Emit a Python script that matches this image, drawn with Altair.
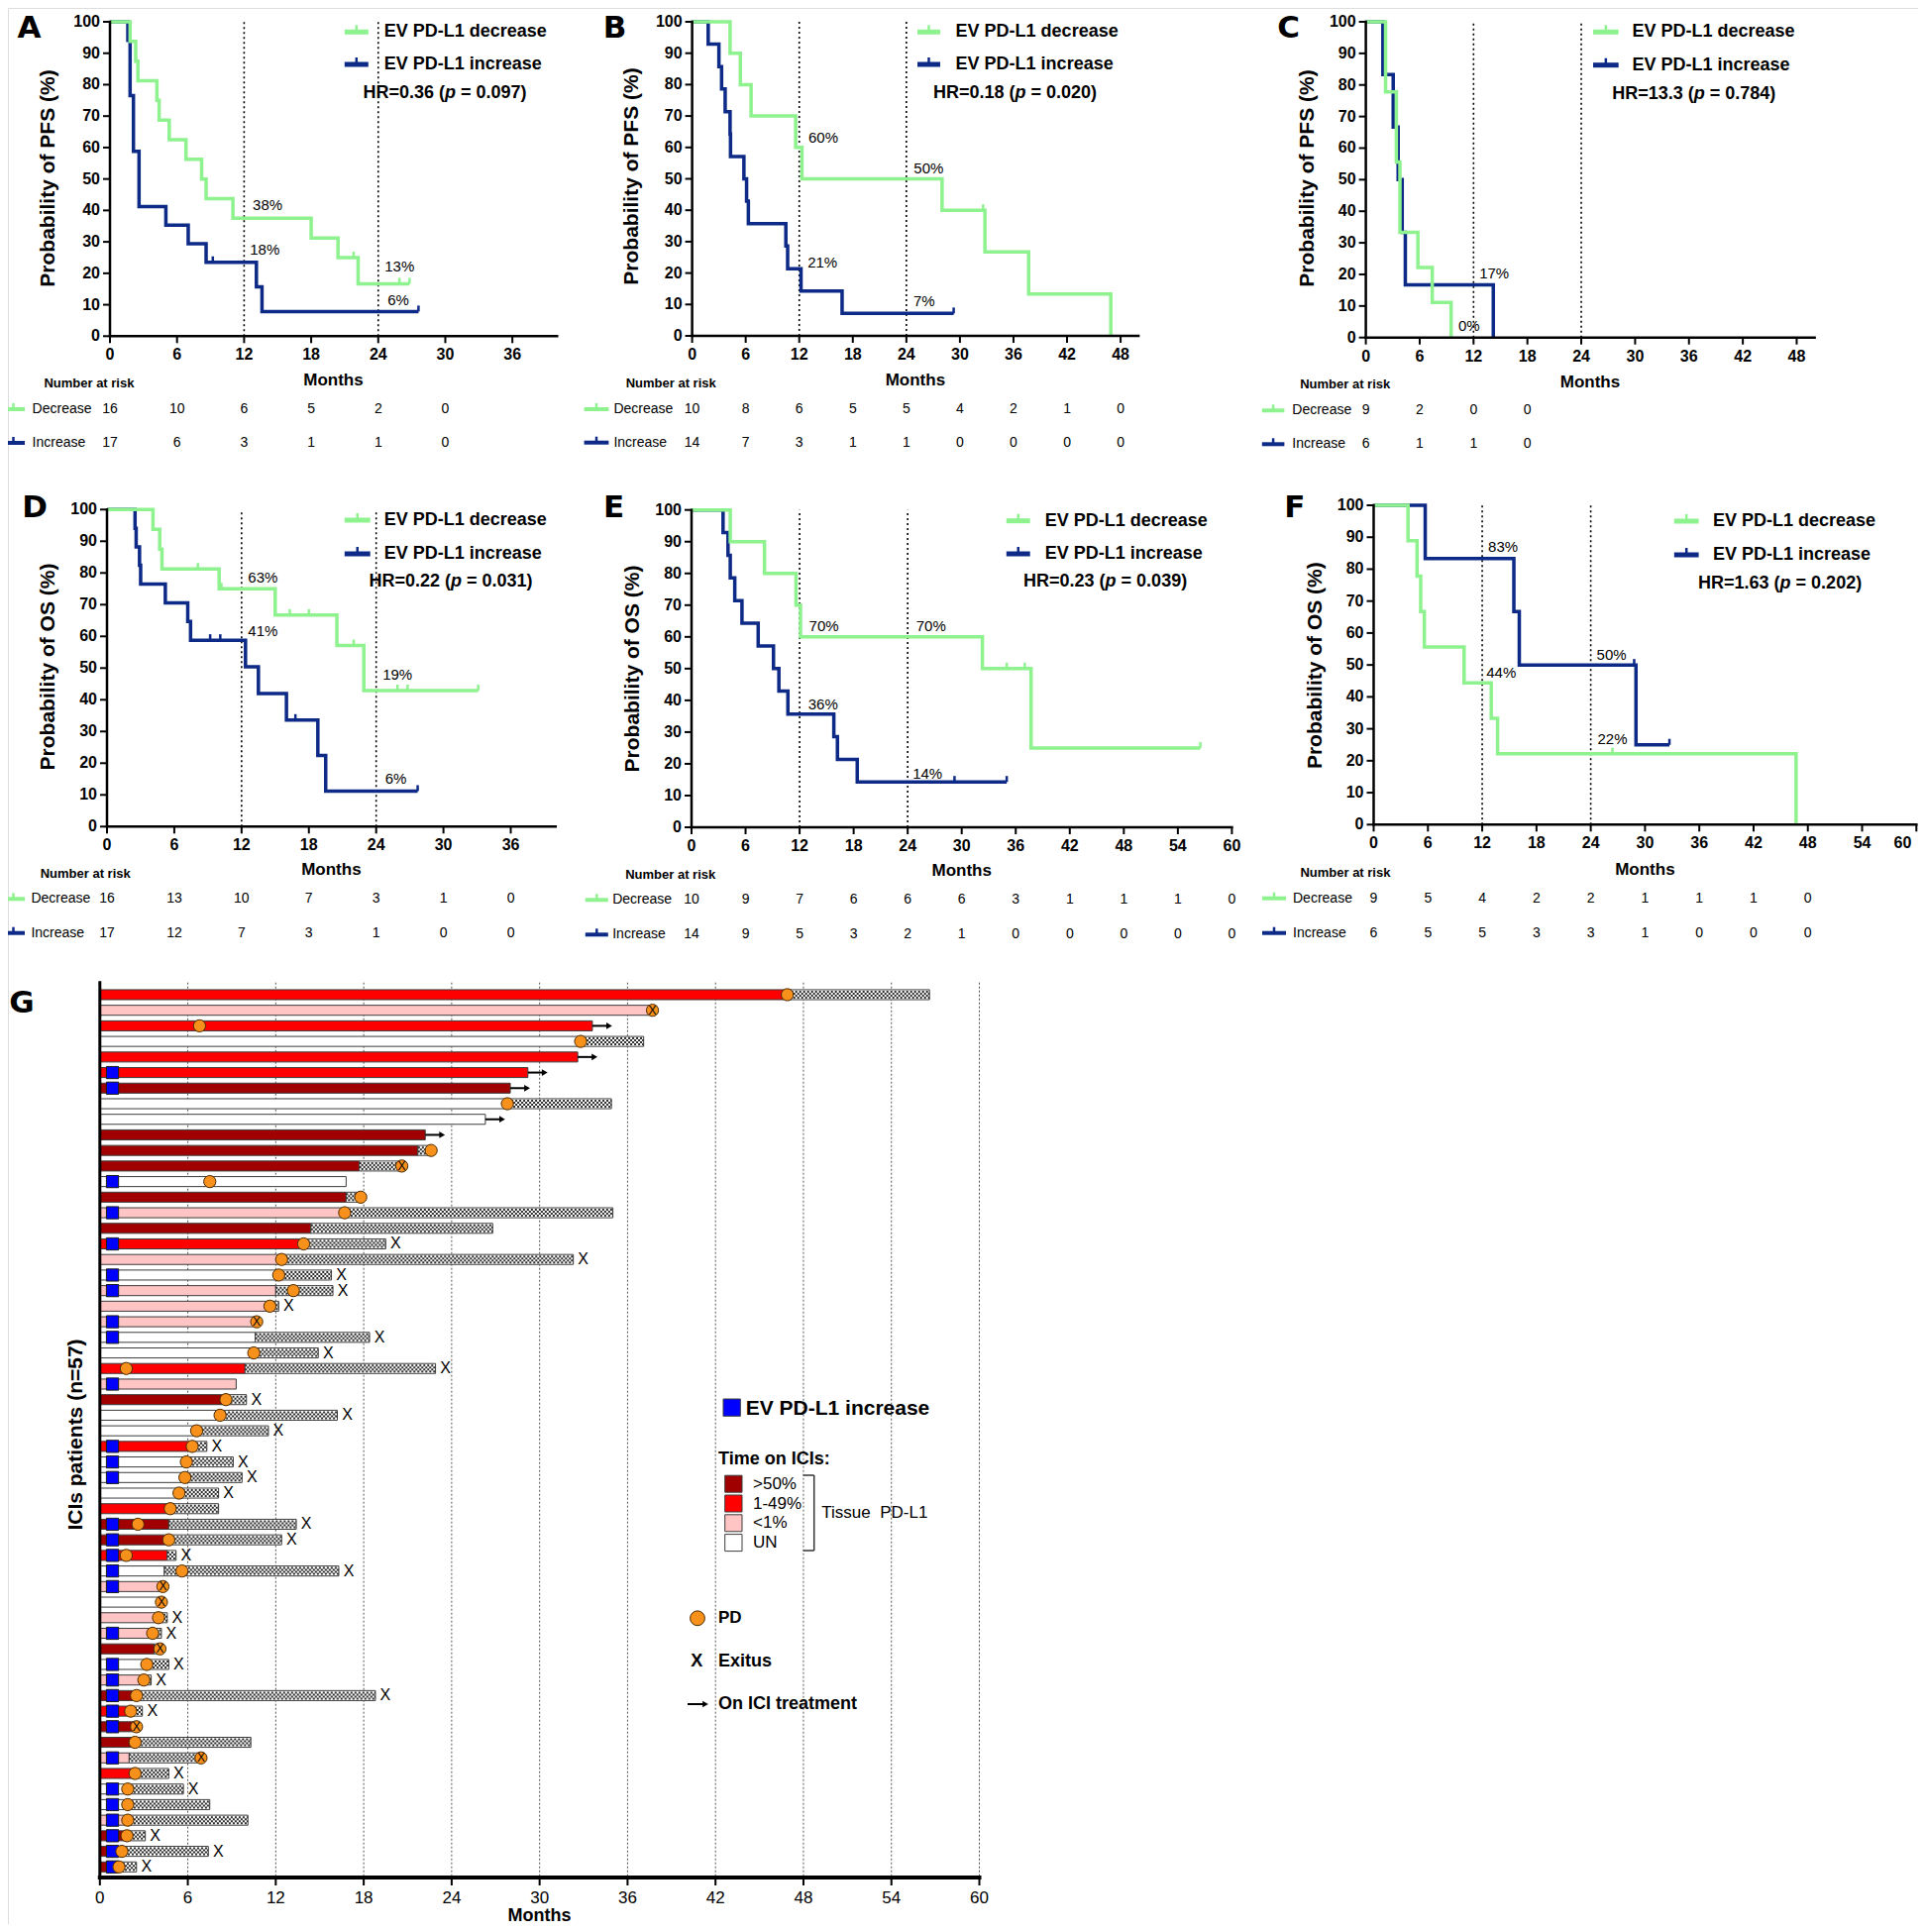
import altair as alt
import pandas as pd

# ======================= DATA =======================
# ---- Panel A (PFS, all patients) ----
A_dec_t = [0, 1.8, 2.3, 2.5, 4.2, 4.4, 5.3, 6.8, 8.2, 8.6, 11.0, 18.0, 20.4, 22.2, 26.8]
A_dec_s = [100, 93.75, 87.5, 81.25, 75, 68.75, 62.5, 56.25, 50, 43.75, 37.5, 31.25, 25, 16.67, 16.67]
A_dec_cens = [21.8, 25.9, 26.8]
A_inc_t = [0, 1.6, 1.8, 2.1, 2.6, 5.0, 7.0, 8.6, 13.1, 13.6, 27.6]
A_inc_s = [100, 94.1, 76.5, 58.8, 41.2, 35.3, 29.4, 23.5, 15.7, 7.84, 7.84]
A_inc_cens = [9.2, 27.6]
A_risk_dec = [16, 10, 6, 5, 2, 0]
A_risk_inc = [17, 6, 3, 1, 1, 0]
A_ann_lbl = ["38%", "18%", "13%", "6%"]
A_ann_t = [14.1, 13.85, 25.9, 25.8]
A_ann_s = [41.6, 27.4, 22.1, 11.3]
A_hr = ["HR=0.36", "0.097"]
A_xticks = [0, 6, 12, 18, 24, 30, 36]

# ---- Panel B ----
B_dec_t = [0, 4.25, 5.4, 6.6, 11.6, 12.3, 28.0, 32.8, 37.7, 46.9]
B_dec_s = [100, 90, 80, 70, 60, 50, 40, 26.7, 13.3, 0]
B_dec_cens = [32.6]
B_inc_t = [0, 1.8, 3.0, 3.3, 3.7, 4.25, 4.3, 5.8, 6.1, 6.3, 10.5, 10.7, 12.2, 16.8, 29.3]
B_inc_s = [100, 92.9, 85.7, 78.6, 71.4, 64.3, 57.1, 50, 42.9, 35.7, 28.6, 21.4, 14.3, 7.14, 7.14]
B_inc_cens = [29.3]
B_risk_dec = [10, 8, 6, 5, 5, 4, 2, 1, 0]
B_risk_inc = [14, 7, 3, 1, 1, 0, 0, 0, 0]
B_ann_lbl = ["60%", "50%", "21%", "7%"]
B_ann_t = [14.7, 26.5, 14.6, 26.0]
B_ann_s = [63.0, 53.4, 23.4, 11.1]
B_hr = ["HR=0.18", "0.020"]
B_xticks = [0, 6, 12, 18, 24, 30, 36, 42, 48]

# ---- Panel C ----
C_dec_t = [0, 2.2, 3.4, 3.8, 5.8, 7.4, 9.5]
C_dec_s = [100, 77.8, 55.6, 33.3, 22.2, 11.1, 0]
C_dec_cens = []
C_inc_t = [0, 1.9, 3.05, 3.6, 4.05, 4.4, 14.2]
C_inc_s = [100, 83.3, 66.7, 50, 33.3, 16.7, 0]
C_inc_cens = []
C_risk_dec = [9, 2, 0, 0]
C_risk_inc = [6, 1, 1, 0]
C_ann_lbl = ["17%", "0%"]
C_ann_t = [14.3, 11.5]
C_ann_s = [20.4, 3.6]
C_hr = ["HR=13.3", "0.784"]
C_xticks = [0, 6, 12, 18, 24, 30, 36, 42, 48]

# ---- Panel D (OS) ----
D_dec_t = [0, 4.1, 4.7, 4.9, 10.0, 15.0, 20.5, 22.9, 33.1]
D_dec_s = [100, 93.75, 87.5, 81.25, 75, 66.7, 57.1, 42.9, 42.9]
D_dec_cens = [8.1, 10.2, 16.3, 18.0, 22.0, 25.9, 26.8, 33.1]
D_inc_t = [0, 2.5, 2.6, 2.9, 3.0, 5.2, 7.2, 7.45, 12.35, 13.5, 16.0, 18.8, 19.5, 27.7]
D_inc_s = [100, 94.1, 88.2, 82.4, 76.5, 70.6, 64.7, 58.8, 50.4, 42.0, 33.6, 22.4, 11.2, 11.2]
D_inc_cens = [9.2, 10.1, 16.8, 27.7]
D_risk_dec = [16, 13, 10, 7, 3, 1, 0]
D_risk_inc = [17, 12, 7, 3, 1, 0, 0]
D_ann_lbl = ["63%", "41%", "19%", "6%"]
D_ann_t = [13.9, 13.9, 25.9, 25.75]
D_ann_s = [78.6, 61.8, 48.0, 15.1]
D_hr = ["HR=0.22", "0.031"]
D_xticks = [0, 6, 12, 18, 24, 30, 36]

# ---- Panel E ----
E_dec_t = [0, 4.3, 8.1, 11.6, 12.1, 32.3, 37.7, 56.5]
E_dec_s = [100, 90, 80, 70, 60, 50, 25, 25]
E_dec_cens = [35.0, 37.0, 56.5]
E_inc_t = [0, 3.5, 4.05, 4.3, 4.8, 5.6, 7.4, 9.1, 9.7, 10.7, 15.8, 16.2, 18.4, 35.0]
E_inc_s = [100, 92.9, 85.7, 78.6, 71.4, 64.3, 57.1, 50, 42.9, 35.7, 28.6, 21.4, 14.3, 14.3]
E_inc_cens = [29.2, 35.0]
E_risk_dec = [10, 9, 7, 6, 6, 6, 3, 1, 1, 1, 0]
E_risk_inc = [14, 9, 5, 3, 2, 1, 0, 0, 0, 0, 0]
E_ann_lbl = ["70%", "70%", "36%", "14%"]
E_ann_t = [14.7, 26.6, 14.6, 26.2]
E_ann_s = [63.3, 63.3, 38.8, 17.0]
E_hr = ["HR=0.23", "0.039"]
E_xticks = [0, 6, 12, 18, 24, 30, 36, 42, 48, 54, 60]

# ---- Panel F ----
F_dec_t = [0, 3.8, 4.8, 5.2, 5.6, 10.0, 13.0, 13.7, 46.7]
F_dec_s = [100, 88.9, 77.8, 66.7, 55.6, 44.4, 33.3, 22.2, 0]
F_dec_cens = [26.4]
F_inc_t = [0, 5.7, 15.5, 16.1, 29.0, 32.7]
F_inc_s = [100, 83.3, 66.7, 50, 25, 25]
F_inc_cens = [28.8, 32.7]
F_risk_dec = [9, 5, 4, 2, 2, 1, 1, 1, 0]
F_risk_inc = [6, 5, 5, 3, 3, 1, 0, 0, 0]
F_ann_lbl = ["83%", "44%", "50%", "22%"]
F_ann_t = [14.3, 14.1, 26.3, 26.4]
F_ann_s = [86.9, 47.6, 53.3, 26.8]
F_hr = ["HR=1.63", "0.202"]
F_xticks = [0, 6, 12, 18, 24, 30, 36, 42, 48, 54, 60]

KM_YTICKS = [0, 10, 20, 30, 40, 50, 60, 70, 80, 90, 100]
KM_GUIDES = [12, 24]

# ---- Panel G (swimmer plot, 57 patients, top to bottom) ----
G_tissue = ["1-49%", "<1%", "1-49%", "UN", "1-49%", "1-49%", ">50%", "UN", "UN", ">50%",
            ">50%", ">50%", "UN", ">50%", "<1%", ">50%", "1-49%", "<1%", "UN", "<1%",
            "<1%", "<1%", "UN", "UN", "1-49%", "<1%", ">50%", "UN", "UN", "1-49%",
            "UN", "UN", "UN", "1-49%", ">50%", ">50%", "1-49%", "UN", "<1%", "UN",
            "<1%", "<1%", ">50%", "UN", "<1%", ">50%", "1-49%", ">50%", ">50%", "<1%",
            "1-49%", "UN", "UN", "<1%", ">50%", ">50%", ">50%"]
G_ici = [46.9, 37.6, 33.6, 32.8, 32.6, 29.2, 28.0, 27.8, 26.3, 22.2,
         21.7, 17.7, 16.8, 16.8, 16.7, 14.4, 13.9, 12.4, 12.2, 12.0,
         11.6, 10.6, 10.6, 10.5, 9.9, 9.3, 8.5, 8.2, 6.6, 6.3,
         5.9, 5.8, 5.4, 4.8, 4.7, 4.7, 4.6, 4.4, 4.2, 4.1,
         3.8, 3.5, 3.7, 3.2, 3.0, 2.5, 2.1, 2.4, 2.4, 2.0,
         2.4, 1.9, 1.9, 1.9, 1.85, 1.5, 1.3]
G_total = [56.6, 37.7, 33.6, 37.1, 32.6, 29.2, 28.0, 34.9, 26.3, 22.2,
           22.5, 20.6, 16.8, 17.6, 35.0, 26.8, 19.5, 32.3, 15.8, 15.9,
           12.2, 10.7, 18.4, 14.9, 22.9, 9.3, 10.0, 16.2, 11.5, 7.3,
           9.1, 9.7, 8.1, 8.1, 13.4, 12.4, 5.2, 16.3, 4.3, 4.2,
           4.6, 4.2, 4.1, 4.7, 3.5, 18.8, 2.9, 2.5, 10.3, 6.9,
           4.7, 5.7, 7.5, 10.1, 3.1, 7.4, 2.5]
G_pd = [46.9, 37.7, 6.8, 32.8, None, None, None, 27.8, None, None,
        22.6, 20.6, 7.5, 17.8, 16.7, None, 13.9, 12.4, 12.2, 13.2,
        11.6, 10.7, None, 10.5, 1.8, None, 8.6, 8.2, 6.6, 6.3,
        5.9, 5.8, 5.4, 4.8, 2.6, 4.7, 1.8, 5.6, 4.3, 4.2,
        4.0, 3.6, 4.1, 3.2, 3.0, 2.5, 2.1, 2.5, 2.4, 6.9,
        2.4, 1.9, 1.9, 1.9, 1.85, 1.5, 1.3]
G_exitus = [0, 0, 0, 0, 0, 0, 0, 0, 0, 0,
            0, 0, 0, 0, 0, 0, 1, 1, 1, 1,
            1, 0, 1, 1, 1, 0, 1, 1, 1, 1,
            1, 1, 1, 0, 1, 1, 1, 1, 0, 0,
            1, 1, 0, 1, 1, 1, 1, 0, 0, 0,
            1, 1, 0, 0, 1, 1, 1]
G_pd_exitus = [0, 1, 0, 0, 0, 0, 0, 0, 0, 0,
               0, 1, 0, 0, 0, 0, 0, 0, 0, 0,
               0, 1, 0, 0, 0, 0, 0, 0, 0, 0,
               0, 0, 0, 0, 0, 0, 0, 0, 1, 1,
               0, 0, 1, 0, 0, 0, 0, 1, 0, 1,
               0, 0, 0, 0, 0, 0, 0]
G_ongoing = [0, 0, 1, 0, 1, 1, 1, 0, 1, 1] + [0] * 47
G_ev = [0, 0, 0, 0, 0, 1, 1, 0, 0, 0,
        0, 0, 1, 0, 1, 0, 1, 0, 1, 1,
        0, 1, 1, 0, 0, 1, 0, 0, 0, 1,
        1, 1, 0, 0, 1, 1, 1, 1, 1, 0,
        0, 1, 0, 1, 1, 1, 1, 1, 0, 1,
        0, 1, 1, 1, 1, 1, 1]
EV_MARK_MONTH = 0.86
G_xticks = [0, 6, 12, 18, 24, 30, 36, 42, 48, 54, 60]

TISSUE_LEVELS = [">50%", "1-49%", "<1%", "UN"]
TISSUE_COLORS = ["#a00000", "#ff0000", "#ffc4c4", "#ffffff"]

# ======================= STYLE / HELPERS =======================
W, H = 1928, 1934
FONT = "Liberation Sans"
LETTER_FONT = "DejaVu Sans"
GREEN = "#8ef28e"
NAVY = "#0c2a86"
ORANGE = "#f8901c"
BLUE = "#0000ff"
CHECK_INK = "#2e2e2e"
EDGE = "#3c3c3c"
NB = "\u00a0"

def P(x):
    return round(x - 8, 2)

def Q(y):
    return round(y - 8, 2)

ONE = pd.DataFrame({"k": [0]})

def text(x, y, s, size=14, weight="normal", align="left", angle=0, style="normal", color="black",
         baseline="middle", font=FONT):
    return alt.Chart(ONE).mark_text(text=s, font=font, fontSize=size, fontWeight=weight, fontStyle=style,
                                    align=align, baseline=baseline, angle=angle, color=color).encode(
        x=alt.value(P(x)), y=alt.value(Q(y)))

def hrule(x1, x2, y, color="black", width=1.0):
    return alt.Chart(ONE).mark_rule(color=color, strokeWidth=width).encode(
        x=alt.value(P(x1)), x2=alt.value(P(x2)), y=alt.value(Q(y)))

def vrule(x, y1, y2, color="black", width=1.0):
    return alt.Chart(ONE).mark_rule(color=color, strokeWidth=width).encode(
        x=alt.value(P(x)), y=alt.value(Q(y1)), y2=alt.value(Q(y2)))

def box(x1, y1, x2, y2, fill):
    return alt.Chart(ONE).mark_rect(fill=fill, stroke=EDGE, strokeWidth=1).encode(
        x=alt.value(P(x1)), x2=alt.value(P(x2)), y=alt.value(Q(y1)), y2=alt.value(Q(y2)))

BW = {"H": 722, "R": 722, "=": 584, ".": 278, " ": 278, "(": 333, ")": 333, "p": 611}

def bwidth(s, size):
    return sum(BW.get(c, 556) for c in s) * size / 1000.0

def hr_text(cx, y, hr, pval, size=18):
    a = hr + " ("
    b = "p"
    c = "= " + pval + ")"
    sp = bwidth(" ", size)
    wa, wb, wc = bwidth(a, size), bwidth(b, size), bwidth(c, size)
    left = cx - (wa + wb + sp + wc) / 2
    return [text(left, y, a, size, "bold"),
            text(left + wa, y, b, size, "bold", style="italic"),
            text(left + wa + wb + sp, y, c, size, "bold")]

def step_val(ts, ss, t):
    v = ss[0]
    for ti, si in zip(ts, ss):
        if ti <= t + 1e-9:
            v = si
    return v

def axis_marks(xs, ys, xmin, xmax, ymin, ymax, xticks, yticks, dom_w, tick_len,
               xlab_dy, xlab_size, xlab_weight, ylab_size=16, ylab_dx=-10, ywidth=None, flush_last=False):
    """Axis lines, ticks and labels drawn as marks through the panel's scales."""
    out = []
    xd = pd.DataFrame({"a": [xmin], "b": [xmax], "y": [ymin]})
    out.append(alt.Chart(xd).mark_rule(color="black", strokeWidth=dom_w, strokeCap="square").encode(
        x=alt.X("a:Q", scale=xs, axis=None), x2="b:Q", y=alt.Y("y:Q", scale=ys, axis=None)))
    yd = pd.DataFrame({"x": [xmin], "lo": [ymin], "hi": [ymax]})
    out.append(alt.Chart(yd).mark_rule(color="black", strokeWidth=ywidth or dom_w, strokeCap="square").encode(
        x=alt.X("x:Q", scale=xs, axis=None), y=alt.Y("lo:Q", scale=ys, axis=None), y2="hi:Q"))
    xt = pd.DataFrame({"m": xticks, "y": [ymin] * len(xticks)})
    out.append(alt.Chart(xt).mark_rule(color="black", strokeWidth=2, y2Offset=tick_len).encode(
        x=alt.X("m:Q", scale=xs, axis=None), y=alt.Y("y:Q", scale=ys, axis=None), y2="y:Q"))
    groups = [(xticks[:-1], "center"), (xticks[-1:], "right")] if flush_last else [(xticks, "center")]
    for vals, al in groups:
        lt = pd.DataFrame({"m": vals, "y": [ymin] * len(vals)})
        out.append(alt.Chart(lt).mark_text(font=FONT, fontSize=xlab_size, fontWeight=xlab_weight,
                                           dy=xlab_dy, dx=(-5 if al == "right" else 0), align=al,
                                           baseline="middle", color="black").encode(
            x=alt.X("m:Q", scale=xs, axis=None), y=alt.Y("y:Q", scale=ys, axis=None), text="m:Q"))
    if yticks:
        yt = pd.DataFrame({"v": yticks, "x": [xmin] * len(yticks)})
        out.append(alt.Chart(yt).mark_rule(color="black", strokeWidth=2, x2Offset=-tick_len).encode(
            x=alt.X("x:Q", scale=xs, axis=None), x2="x:Q", y=alt.Y("v:Q", scale=ys, axis=None)))
        out.append(alt.Chart(yt).mark_text(font=FONT, fontSize=ylab_size, fontWeight="bold",
                                           dx=ylab_dx, align="right", baseline="middle",
                                           color="black").encode(
            x=alt.X("x:Q", scale=xs, axis=None), y=alt.Y("v:Q", scale=ys, axis=None), text="v:Q"))
    return out

# ======================= KM PANELS =======================
GEOM = {
    "A": dict(x0=111, x1=562.3, xmax=40, y0=339.3, y100=22, letter=(29.6, 38),
              ytitle="Probability of PFS (%)", yt=(49, 180), months=(336.5, 384),
              sym=(347.8, 371.8), legx=387.7, legy=(32.3, 65), hr=(449, 94),
              nar=(44.4, 387), rows=(413, 447), labx=32.6, rsym=(2, 25), flush=False),
    "B": dict(x0=698.6, x1=1149.1, xmax=50, y0=339, y100=22, letter=(620.6, 38),
              ytitle="Probability of PFS (%)", yt=(638.4, 178), months=(923.9, 384.3),
              sym=(926, 949), legx=964.6, legy=(32.3, 65), hr=(1024.5, 94),
              nar=(631.7, 387), rows=(413, 446.7), labx=619.4, rsym=(589.6, 614.4), flush=False),
    "C": dict(x0=1378.6, x1=1831.6, xmax=50, y0=340.7, y100=22, letter=(1300.5, 38),
              ytitle="Probability of PFS (%)", yt=(1320.3, 180), months=(1605, 385.7),
              sym=(1608, 1633.7), legx=1647.5, legy=(32.3, 65.7), hr=(1709.8, 94.7),
              nar=(1312.2, 388.3), rows=(414.3, 448.3), labx=1304.3, rsym=(1273.8, 1296.4), flush=False),
    "D": dict(x0=108, x1=560.8, xmax=40, y0=834.3, y100=514.3, letter=(35.1, 522),
              ytitle="Probability of OS (%)", yt=(49, 673), months=(334.4, 878.3),
              sym=(347.8, 373.7), legx=387.7, legy=(525, 559), hr=(455, 587.3),
              nar=(40.7, 881.7), rows=(907.3, 941.7), labx=31.4, rsym=(2, 25), flush=False),
    "E": dict(x0=698, x1=1243.4, xmax=60, y0=835, y100=514.7, letter=(619.7, 522),
              ytitle="Probability of OS (%)", yt=(638.5, 675), months=(970.7, 879.3),
              sym=(1015.8, 1039.7), legx=1054.8, legy=(525.7, 559), hr=(1115.6, 587.3),
              nar=(631.2, 883), rows=(908.3, 943.3), labx=618.2, rsym=(590.8, 613.8), flush=False),
    "F": dict(x0=1386.5, x1=1934.3, xmax=60, y0=832.3, y100=510, letter=(1306.9, 522),
              ytitle="Probability of OS (%)", yt=(1327.6, 671.7), months=(1660.4, 877.7),
              sym=(1689.8, 1714.6), legx=1729, legy=(526, 560), hr=(1796.6, 589),
              nar=(1312.4, 880.7), rows=(906.7, 941.7), labx=1305, rsym=(1274, 1298), flush=True),
}

KM = {
    "A": (A_dec_t, A_dec_s, A_dec_cens, A_inc_t, A_inc_s, A_inc_cens, A_risk_dec, A_risk_inc, A_ann_lbl, A_ann_t, A_ann_s, A_hr, A_xticks),
    "B": (B_dec_t, B_dec_s, B_dec_cens, B_inc_t, B_inc_s, B_inc_cens, B_risk_dec, B_risk_inc, B_ann_lbl, B_ann_t, B_ann_s, B_hr, B_xticks),
    "C": (C_dec_t, C_dec_s, C_dec_cens, C_inc_t, C_inc_s, C_inc_cens, C_risk_dec, C_risk_inc, C_ann_lbl, C_ann_t, C_ann_s, C_hr, C_xticks),
    "D": (D_dec_t, D_dec_s, D_dec_cens, D_inc_t, D_inc_s, D_inc_cens, D_risk_dec, D_risk_inc, D_ann_lbl, D_ann_t, D_ann_s, D_hr, D_xticks),
    "E": (E_dec_t, E_dec_s, E_dec_cens, E_inc_t, E_inc_s, E_inc_cens, E_risk_dec, E_risk_inc, E_ann_lbl, E_ann_t, E_ann_s, E_hr, E_xticks),
    "F": (F_dec_t, F_dec_s, F_dec_cens, F_inc_t, F_inc_s, F_inc_cens, F_risk_dec, F_risk_inc, F_ann_lbl, F_ann_t, F_ann_s, F_hr, F_xticks),
}

scaled = []
static = []

for key in ["A", "B", "C", "D", "E", "F"]:
    g = GEOM[key]
    dec_t, dec_s, dec_c, inc_t, inc_s, inc_c, r_dec, r_inc, an_l, an_t, an_s, hr, xticks = KM[key]
    xs = alt.Scale(domain=[0, g["xmax"]], range=[P(g["x0"]), P(g["x1"])], nice=False, zero=False)
    ys = alt.Scale(domain=[0, 100], range=[Q(g["y0"]), Q(g["y100"])], nice=False, zero=False)
    L = []
    guide = pd.DataFrame({"m": KM_GUIDES, "lo": [0] * len(KM_GUIDES), "hi": [100] * len(KM_GUIDES)})
    L.append(alt.Chart(guide).mark_rule(color="black", strokeWidth=1.6, strokeDash=[2, 3]).encode(
        x=alt.X("m:Q", scale=xs, axis=None), y=alt.Y("lo:Q", scale=ys, axis=None), y2="hi:Q"))
    for ts, ss, cs, col in [(inc_t, inc_s, inc_c, NAVY), (dec_t, dec_s, dec_c, GREEN)]:
        cdf = pd.DataFrame({"t": ts, "s": ss})
        L.append(alt.Chart(cdf).mark_line(interpolate="step-after", color=col, strokeWidth=3.5,
                                          strokeJoin="miter").encode(
            x=alt.X("t:Q", scale=xs, axis=None), y=alt.Y("s:Q", scale=ys, axis=None), order="t:Q"))
        if cs:
            kdf = pd.DataFrame({"t": cs, "s": [step_val(ts, ss, c) for c in cs]})
            L.append(alt.Chart(kdf).mark_rule(color=col, strokeWidth=2.5, y2Offset=-6).encode(
                x=alt.X("t:Q", scale=xs, axis=None), y=alt.Y("s:Q", scale=ys, axis=None), y2="s:Q"))
    adf = pd.DataFrame({"t": an_t, "s": an_s, "l": an_l})
    L.append(alt.Chart(adf).mark_text(font=FONT, fontSize=15, align="center", baseline="middle",
                                      color="black").encode(
        x=alt.X("t:Q", scale=xs, axis=None), y=alt.Y("s:Q", scale=ys, axis=None), text="l:N"))
    for counts, ry in [(r_dec, g["rows"][0]), (r_inc, g["rows"][1])]:
        rdf = pd.DataFrame({"m": xticks[:len(counts)], "n": counts})
        L.append(alt.Chart(rdf).mark_text(font=FONT, fontSize=14, align="center", baseline="middle",
                                          color="black").encode(
            x=alt.X("m:Q", scale=xs, axis=None), y=alt.value(Q(ry)), text="n:Q"))
    L += axis_marks(xs, ys, 0, g["xmax"], 0, 100, xticks, KM_YTICKS, 2.5, 7, 19, 16, "bold",
                    flush_last=g["flush"])
    scaled.append(alt.layer(*L))

    # static decorations
    static.append(text(g["letter"][0], g["letter"][1], key, 31, "bold", align="center",
                       baseline="alphabetic", font=LETTER_FONT))
    static.append(text(g["yt"][0], g["yt"][1], g["ytitle"], 21, "bold", align="center", angle=270))
    static.append(text(g["months"][0], g["months"][1], "Months", 17, "bold", align="center"))
    for col, ly, lab in [(GREEN, g["legy"][0], "EV PD-L1 decrease"), (NAVY, g["legy"][1], "EV PD-L1 increase")]:
        s0, s1 = g["sym"]
        static.append(hrule(s0, s1, ly, col, 5))
        static.append(vrule((s0 + s1) / 2, ly - 7, ly, col, 2.5))
        static.append(text(g["legx"], ly, lab, 18, "bold"))
    static += hr_text(g["hr"][0], g["hr"][1], hr[0], hr[1])
    static.append(text(g["nar"][0], g["nar"][1], "Number at risk", 13, "bold"))
    for col, ry, lab in [(GREEN, g["rows"][0], "Decrease"), (NAVY, g["rows"][1], "Increase")]:
        r0, r1 = g["rsym"]
        static.append(hrule(r0, r1, ry, col, 4))
        static.append(vrule((r0 + r1) / 2, ry - 6, ry, col, 2.5))
        static.append(text(g["labx"], ry, lab, 14))

# ======================= SWIMMER PANEL G =======================
gx = alt.Scale(domain=[0, 60], range=[P(100.8), P(988.5)], nice=False, zero=False)
gy = alt.Scale(domain=[0.22, 57.68], range=[Q(991.7), Q(1895)], nice=False, zero=False)

rows = list(range(1, 58))
HALF = 0.32
grid_df = pd.DataFrame({"m": G_xticks[1:]})
grid_df["lo"] = 0.22
grid_df["hi"] = 57.68

main_df = pd.DataFrame({"row": rows, "tissue": G_tissue, "ici": G_ici})
main_df["start"] = 0.0
main_df["y0"] = main_df["row"] - HALF
main_df["y1"] = main_df["row"] + HALF

chk_df = pd.DataFrame([dict(row=r, a=i, b=t, y0=r - HALF, y1=r + HALF)
                       for r, i, t in zip(rows, G_ici, G_total) if t > i + 1e-9])
arr_df = pd.DataFrame([dict(row=r, e=i) for r, i, o in zip(rows, G_ici, G_ongoing) if o])
ev_df = pd.DataFrame([dict(row=r, m=EV_MARK_MONTH) for r, e in zip(rows, G_ev) if e])
pd_df = pd.DataFrame([dict(row=r, m=p) for r, p in zip(rows, G_pd) if p is not None])
ex_df = pd.DataFrame([dict(row=r, m=t) for r, t, e in zip(rows, G_total, G_exitus) if e])
pdx_df = pd.DataFrame([dict(row=r, m=p) for r, p, e in zip(rows, G_pd, G_pd_exitus) if e])

GX = alt.X("m:Q", scale=gx, axis=None)
GY = alt.Y("row:Q", scale=gy, axis=None)

GL = [
    alt.Chart(grid_df).mark_rule(color="#555555", strokeWidth=1, strokeDash=[2, 2]).encode(
        x=GX, y=alt.Y("lo:Q", scale=gy, axis=None), y2="hi:Q"),
    alt.Chart(main_df).mark_rect(stroke=EDGE, strokeWidth=1).encode(
        x=alt.X("start:Q", scale=gx, axis=None), x2="ici:Q",
        y=alt.Y("y0:Q", scale=gy, axis=None), y2="y1:Q",
        color=alt.Color("tissue:N", scale=alt.Scale(domain=TISSUE_LEVELS, range=TISSUE_COLORS), legend=None)),
    alt.Chart(chk_df).mark_rect(fill="#ffffff", stroke=EDGE, strokeWidth=1).encode(
        x=alt.X("a:Q", scale=gx, axis=None), x2="b:Q",
        y=alt.Y("y0:Q", scale=gy, axis=None), y2="y1:Q"),
]
# checkered texture of the post-ICI follow-up segment
for off, dash_off in [(-3, 0), (-1, 2), (1, 0), (3, 2)]:
    GL.append(alt.Chart(chk_df).mark_rule(color=CHECK_INK, strokeWidth=2, strokeDash=[2, 2],
                                          strokeDashOffset=dash_off, yOffset=off).encode(
        x=alt.X("a:Q", scale=gx, axis=None), x2="b:Q", y=GY))
GL += [
    alt.Chart(arr_df).mark_rule(color="black", strokeWidth=2, x2Offset=15).encode(
        x=alt.X("e:Q", scale=gx, axis=None), x2="e:Q", y=GY),
    alt.Chart(arr_df).mark_point(shape="triangle-right", filled=True, color="black", size=45,
                                 opacity=1, xOffset=17).encode(
        x=alt.X("e:Q", scale=gx, axis=None), y=GY),
    alt.Chart(ev_df).mark_square(size=150, fill=BLUE, stroke="#1a1a1a", strokeWidth=1, opacity=1).encode(
        x=GX, y=GY),
    alt.Chart(pd_df).mark_circle(size=150, fill=ORANGE, stroke="#4a2a00", strokeWidth=1, opacity=1).encode(
        x=GX, y=GY),
    alt.Chart(ex_df).mark_text(text="X", font=FONT, fontSize=16, dx=10, align="center", baseline="middle",
                               color="black").encode(x=GX, y=GY),
    alt.Chart(pdx_df).mark_text(text="X", font=FONT, fontSize=12, align="center", baseline="middle",
                                color="black").encode(x=GX, y=GY),
]
GL += axis_marks(gx, gy, 0, 60, 57.68, 0.22, G_xticks, None, 4, 8, 21, 17, "normal", ywidth=3)
scaled.append(alt.layer(*GL))

static.append(text(22, 1022, "G", 31, "bold", align="center", baseline="alphabetic", font=LETTER_FONT))
static.append(text(77, 1448, "ICIs patients (n=57)", 21, "bold", align="center", angle=270))
static.append(text(544.6, 1934, "Months", 18, "bold", align="center"))

# legend of G
static.append(box(730, 1412, 747.3, 1429.3, BLUE))
static.append(text(752.7, 1421.7, "EV PD-L1 increase", 21, "bold"))
static.append(text(725, 1473.3, "Time on ICIs:", 18, "bold"))
for i, (lab, col) in enumerate(zip(TISSUE_LEVELS, TISSUE_COLORS)):
    cy = 1497.7 + i * 19.8
    static.append(box(731.7, cy - 8.5, 749, cy + 8.5, col))
    static.append(text(760, cy, lab, 17))
static.append(vrule(821.7, 1489, 1565, "#333333", 1.5))
static.append(hrule(810.7, 821.7, 1489, "#333333", 1.5))
static.append(hrule(810.7, 821.7, 1565, "#333333", 1.5))
static.append(text(829.3, 1526.7, "Tissue" + NB + NB + "PD-L1", 17))
static.append(alt.Chart(ONE).mark_circle(size=220, fill=ORANGE, stroke="#4a2a00", strokeWidth=1, opacity=1).encode(
    x=alt.value(P(704)), y=alt.value(Q(1633.3))))
static.append(text(725, 1633.3, "PD", 17, "bold"))
static.append(text(703.3, 1676.7, "X", 18, "bold", align="center"))
static.append(text(725, 1676.7, "Exitus", 18, "bold"))
static.append(hrule(694, 710, 1720, "black", 2))
static.append(alt.Chart(ONE).mark_point(shape="triangle-right", filled=True, color="black", size=45, opacity=1).encode(
    x=alt.value(P(712)), y=alt.value(Q(1720))))
static.append(text(725, 1720, "On ICI treatment", 18, "bold"))

chart = alt.layer(*scaled, *static).resolve_scale(
    x="independent", y="independent", color="independent"
).properties(
    width=W, height=H, padding=0, autosize=alt.AutoSizeParams(type="none")
).configure_view(stroke=None).configure(background="white")

chart.save("out.html", embed_options={"renderer": "svg", "actions": False})
